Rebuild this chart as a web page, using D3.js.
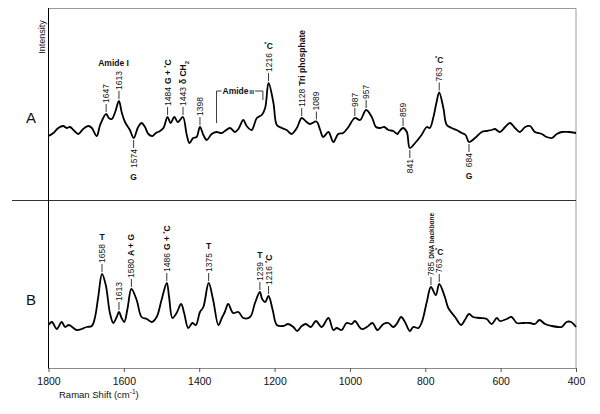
<!DOCTYPE html>
<html><head><meta charset="utf-8">
<script src="https://cdn.jsdelivr.net/npm/d3@7"></script>
<style>body{margin:0;background:#fff}svg{display:block;font-family:"Liberation Sans",Arial,sans-serif}</style>
</head><body><svg id="c" width="600" height="414"></svg>
<script>
// ---------- data ----------
const ramanTicks = [1800,1600,1400,1200,1000,800,600,400];

const shiftA = [1800,1787,1774,1761,1752,1743,1734,1721,1708,1694,1685,1672,1663,1647,1640,1632,1623,1613,1606,1597,1584,1574,1562,1553,1544,1535,1524,1515,1504,1495,1484,1476,1466,1457,1451,1443,1433,1426,1416,1407,1398,1389,1380,1367,1354,1340,1332,1318,1305,1296,1283,1274,1261,1247,1234,1225,1216,1203,1194,1181,1168,1155,1141,1128,1115,1106,1089,1079,1071,1057,1044,1031,1018,1004,987,973,957,942,931,920,909,898,885,874,870,859,849,841,827,810,796,788,779,770,763,752,743,730,717,703,693,684,668,650,637,624,615,602,588,575,562,549,535,522,509,491,478,464,451,438,420,400];
const intensityA = [.44,.47,.52,.54,.52,.53,.50,.46,.51,.54,.52,.44,.55,.66,.62,.61,.68,.79,.68,.58,.50,.42,.53,.57,.53,.46,.44,.47,.49,.52,.63,.57,.63,.58,.60,.63,.45,.37,.42,.43,.53,.45,.40,.46,.48,.47,.49,.52,.48,.51,.60,.54,.50,.62,.65,.72,.97,.77,.55,.52,.50,.46,.52,.62,.58,.56,.585,.50,.43,.48,.38,.46,.47,.53,.62,.60,.70,.63,.53,.52,.53,.50,.49,.46,.48,.52,.48,.32,.37,.45,.53,.52,.62,.78,.875,.72,.55,.52,.50,.47,.45,.38,.42,.48,.49,.50,.51,.48,.53,.57,.52,.48,.53,.54,.48,.46,.43,.42,.46,.48,.48,.47];

const shiftB = [1800,1791,1778,1765,1756,1746,1725,1712,1699,1685,1677,1668,1658,1648,1637,1628,1619,1613,1606,1599,1590,1580,1566,1553,1539,1526,1513,1500,1486,1480,1471,1460,1448,1440,1429,1418,1409,1398,1389,1375,1363,1349,1340,1332,1323,1310,1296,1283,1265,1252,1239,1233,1225,1216,1205,1194,1177,1164,1150,1140,1128,1117,1104,1090,1075,1057,1044,1035,1022,1009,995,987,969,955,940,927,911,898,885,876,864,854,841,832,818,809,796,785,772,763,748,739,721,705,695,684,673,655,637,624,610,602,584,571,557,540,522,509,497,482,464,447,438,425,413,400];
const intensityB = [.15,.18,.11,.18,.13,.15,.10,.11,.13,.14,.22,.43,.66,.55,.27,.17,.23,.28,.22,.18,.32,.51,.40,.23,.21,.18,.23,.40,.57,.43,.22,.27,.36,.27,.12,.17,.15,.28,.33,.57,.40,.15,.22,.28,.36,.27,.28,.22,.23,.37,.48,.41,.38,.44,.30,.15,.14,.16,.13,.09,.14,.16,.13,.19,.13,.22,.10,.12,.10,.17,.16,.19,.11,.13,.17,.10,.16,.17,.13,.16,.23,.18,.09,.13,.12,.18,.38,.53,.45,.56,.43,.32,.23,.15,.20,.26,.23,.22,.21,.16,.22,.19,.21,.23,.17,.17,.17,.16,.20,.16,.14,.13,.13,.18,.18,.13];

// peak annotations: shift, number, optional inline bold suffix, optional label above/below
const peaksA = [
  {s:1647,n:"1647"},{s:1613,n:"1613"},{s:1484,n:"1484",b:"G + *C"},{s:1443,n:"1443",b:"δ CH2"},
  {s:1398,n:"1398"},{s:1216,n:"1216",top:"*C"},{s:1128,n:"1128",b:"Tri phosphate"},{s:1089,n:"1089"},
  {s:987,n:"987"},{s:957,n:"957"},{s:859,n:"859"},{s:763,n:"763",top:"*C"}
];
const troughsA = [{s:1574,n:"1574",bottom:"G"},{s:841,n:"841"},{s:684,n:"684",bottom:"G"}];
const peaksB = [
  {s:1658,n:"1658",top:"T"},{s:1613,n:"1613"},{s:1580,n:"1580",b:"A + G"},{s:1486,n:"1486",b:"G + *C"},
  {s:1375,n:"1375",top:"T"},{s:1239,n:"1239",top:"T"},{s:1216,n:"1216",b:"*C"},
  {s:785,n:"785",b:"DNA backbone",small:true},{s:763,n:"763",top:"*C"}
];
const amideI = {from:1647,to:1613,label:"Amide I"};
const amideIII = {from:1354,to:1231,label:"Amide",sub:"III"};

// ---------- drawing ----------
const svg = d3.select("#c");
const x = d3.scaleLinear().domain([1800,400]).range([48.5,576]);
const yA = d3.scaleLinear().domain([0,1]).range([180,80]);
const yB = d3.scaleLinear().domain([0,1]).range([340,240]);

// frame
svg.append("line").attr("x1",48.5).attr("x2",576).attr("y1",8.5).attr("y2",8.5).attr("stroke","#9a9a9a");
svg.append("line").attr("x1",576).attr("x2",576).attr("y1",8.5).attr("y2",368).attr("stroke","#9a9a9a");
svg.append("line").attr("x1",12).attr("x2",576).attr("y1",200.5).attr("y2",200.5).attr("stroke","#333");

const axis = d3.axisBottom(x).tickValues(ramanTicks).tickSize(4).tickSizeOuter(0).tickPadding(6).tickFormat(d3.format("d"));
const ax = svg.append("g").attr("transform","translate(0,368)").call(axis);
ax.select(".domain").attr("stroke","#8a8a8a");
ax.selectAll(".tick line").attr("stroke","#555");
ax.selectAll(".tick text").attr("font-size",10.5).attr("fill","#111").attr("font-family","Liberation Sans, Arial, sans-serif");

svg.append("line").attr("x1",48.5).attr("x2",48.5).attr("y1",8).attr("y2",368.5).attr("stroke","#000");

const rt = svg.append("text").attr("x",59).attr("y",398).attr("font-size",9.5).attr("fill","#111");
rt.append("tspan").text("Raman Shift (cm");
rt.append("tspan").attr("font-size",6.5).attr("dy",-4).text("-1");
rt.append("tspan").attr("dy",4).text(")");

svg.append("text").attr("transform","translate(41.5,37) rotate(-90)").attr("text-anchor","middle").attr("dy","0.35em")
  .attr("font-size",9).attr("fill","#111").text("Intensity");
svg.append("text").attr("x",31).attr("y",123).attr("text-anchor","middle").attr("font-size",15).attr("fill","#111").text("A");
svg.append("text").attr("x",31).attr("y",305).attr("text-anchor","middle").attr("font-size",15).attr("fill","#111").text("B");

const line = ys => d3.line().x(d=>x(d[0])).y(d=>ys(d[1])).curve(d3.curveCatmullRom.alpha(0.5));
svg.append("path").datum(d3.zip(shiftA,intensityA)).attr("d",line(yA)).attr("fill","none").attr("stroke","#000").attr("stroke-width",1.8).attr("stroke-linejoin","round");
svg.append("path").datum(d3.zip(shiftB,intensityB)).attr("d",line(yB)).attr("fill","none").attr("stroke","#000").attr("stroke-width",1.8).attr("stroke-linejoin","round");

function valueAt(shifts, ints, s){
  for(let i=0;i<shifts.length-1;i++){
    if(s<=shifts[i] && s>=shifts[i+1]){
      const t=(shifts[i]-s)/(shifts[i]-shifts[i+1]||1);
      return ints[i]+(ints[i+1]-ints[i])*t;
    }
  }
  return ints[ints.length-1];
}

function richText(sel, str, size){
  if(str.includes("*")){
    const parts = str.split("*");
    sel.append("tspan").attr("font-size",size).text(parts[0]);
    sel.append("tspan").attr("font-size",size*0.7).attr("dy",-size*0.35).text("*");
    sel.append("tspan").attr("font-size",size).attr("dy",size*0.35).text(parts[1]);
  } else if(str.endsWith("CH2")){
    sel.append("tspan").attr("font-size",size).text(str.slice(0,-1));
    sel.append("tspan").attr("font-size",size*0.7).attr("dy",size*0.3).text("2");
  } else {
    sel.append("tspan").attr("font-size",size).text(str);
  }
}

function annotate(ys, shifts, ints, p, up){
  const px = x(p.s), py = ys(valueAt(shifts,ints,p.s));
  const dir = up ? -1 : 1;
  svg.append("line").attr("x1",px).attr("x2",px).attr("y1",py+dir*2).attr("y2",py+dir*10).attr("stroke","#222").attr("stroke-width",0.9);
  const ty = py+dir*11;
  const t = svg.append("text").attr("transform",`translate(${px},${ty}) rotate(-90)`)
    .attr("text-anchor", up ? "start" : "end").attr("fill","#111");
  t.append("tspan").attr("dy","0.36em").attr("font-size",8.5).text(p.n);
  if(p.b){
    const bs = t.append("tspan").attr("font-weight","bold").attr("dx",3);
    richText(bs, p.b, p.small ? 6.5 : 8.5);
  }
  const L = t.node().getComputedTextLength();
  if(p.top){
    const tt = svg.append("text").attr("x",px).attr("y",ty-L-4).attr("text-anchor","middle").attr("font-weight","bold").attr("fill","#111");
    richText(tt,p.top,8.5);
  }
  if(p.bottom){
    svg.append("text").attr("x",px).attr("y",ty+L+12).attr("text-anchor","middle").attr("font-weight","bold").attr("font-size",8.5).attr("fill","#111").text(p.bottom);
  }
  return ty - L;
}

const tops = {};
peaksA.forEach(p=>{ tops[p.s]=annotate(yA,shiftA,intensityA,p,true); });
troughsA.forEach(p=>annotate(yA,shiftA,intensityA,p,false));
peaksB.forEach(p=>annotate(yB,shiftB,intensityB,p,true));

// Amide I label
svg.append("text").attr("x",(x(amideI.from)+x(amideI.to))/2+1).attr("y",Math.min(tops[amideI.from],tops[amideI.to])-5)
  .attr("text-anchor","middle").attr("font-weight","bold").attr("font-size",8.5).attr("fill","#111").text(amideI.label);

// Amide III bracket
{
  const x0 = x(amideIII.from), x1 = x(amideIII.to);
  const yTop = yA(0.89);
  const yL = yA(valueAt(shiftA,intensityA,amideIII.from))-9;
  const yR = yTop+9;
  const t = svg.append("text").attr("x",x0+6).attr("y",yTop+3).attr("font-weight","bold").attr("fill","#111");
  t.append("tspan").attr("font-size",8.5).text(amideIII.label);
  t.append("tspan").attr("font-size",5.5).attr("dx",1).text(amideIII.sub);
  const tw = t.node().getComputedTextLength();
  svg.append("path").attr("d",`M${x0},${yL}V${yTop}H${x0+5}M${x0+6+tw+2},${yTop}H${x1}V${yR}`)
    .attr("fill","none").attr("stroke","#222").attr("stroke-width",0.9);
}
</script></body></html>
